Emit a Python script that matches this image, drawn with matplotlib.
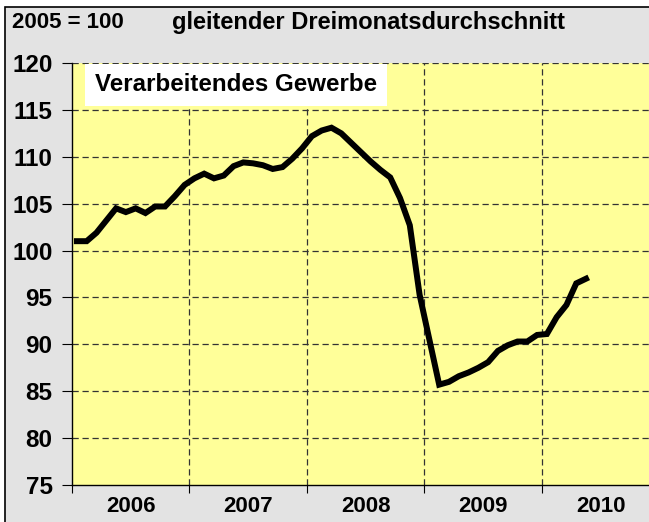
import matplotlib
matplotlib.use("Agg")
import matplotlib.pyplot as plt
from matplotlib.patches import Rectangle

plt.rcParams['font.family'] = ['Liberation Sans', 'DejaVu Sans']

# monthly index values, Jan 2006 - May 2010 (gleitender Dreimonatsdurchschnitt)
index_vals = [
    101.0, 101.0, 101.9, 103.2, 104.5, 104.1, 104.5, 104.0, 104.7, 104.7, 105.8, 107.0,  # 2006
    107.7, 108.2, 107.7, 108.0, 109.0, 109.4, 109.3, 109.1, 108.7, 108.9, 109.8, 110.9,  # 2007
    112.2, 112.8, 113.1, 112.5, 111.5, 110.5, 109.5, 108.6, 107.8, 105.6, 102.7, 95.3,   # 2008
    90.5, 85.7, 86.0, 86.6, 87.0, 87.5, 88.1, 89.3, 89.9, 90.3, 90.3, 91.0,              # 2009
    91.1, 92.9, 94.2, 96.5, 97.0,                                                        # 2010
]
years = ['2006', '2007', '2008', '2009', '2010']
y_ticks = [75, 80, 85, 90, 95, 100, 105, 110, 115, 120]

fig = plt.figure(figsize=(6.49, 5.22), dpi=100)
fig.patch.set_facecolor('white')
# gray panel with black border (top/left visible, rest cropped)
fig.patches.append(Rectangle((5 / 649, -0.1), 1.2, 1.1 - 7 / 522, transform=fig.transFigure,
                             facecolor='#E3E3E3', edgecolor='black', linewidth=1.2, zorder=-5))

ax = fig.add_axes([72 / 649, 1 - 485 / 522, 1 - 72 / 649, (485 - 63) / 522])
ax.set_facecolor('#FFFF99')

x = [i + 0.5 for i in range(len(index_vals))]
ax.plot(x, index_vals, color='black', linewidth=4.3, solid_joinstyle='miter', zorder=5)

ax.set_xlim(0, 58.93)
ax.set_ylim(75, 120)

ax.set_yticks(y_ticks)
ax.set_yticklabels([str(v) for v in y_ticks], fontsize=17.5, fontweight='bold')
ax.set_xticks([0, 12, 24, 36, 48])
ax.set_xticklabels([])
ax.set_xticks([6 + 12 * k for k in range(len(years))], minor=True)
ax.set_xticklabels(years, minor=True, fontsize=16, fontweight='bold')
ax.tick_params(axis='x', which='minor', length=0, pad=8)
ax.tick_params(axis='x', which='major', length=6, direction='out', color='black')
ax.tick_params(axis='y', length=7, direction='out', pad=7)

for v in y_ticks[1:]:
    ax.axhline(v, color='#333333', linewidth=0.9, linestyle=(0, (5, 3)), zorder=2)
for v in [12, 24, 36, 48]:
    ax.axvline(v, color='#333333', linewidth=0.9, linestyle=(0, (5, 3)), zorder=2)

for s in ['top', 'right']:
    ax.spines[s].set_visible(False)
ax.spines['left'].set_linewidth(1.0)
ax.spines['bottom'].set_linewidth(1.0)

ax.text(23 / 577, (485 - 85) / 422, 'Verarbeitendes Gewerbe', transform=ax.transAxes,
        fontsize=17.4, fontweight='bold', va='center', ha='left', zorder=6,
        bbox=dict(boxstyle='square,pad=0.4', facecolor='white', edgecolor='none'))

fig.text(12 / 649, 1 - 22 / 522, '2005 = 100', fontsize=16, fontweight='bold',
         va='center', ha='left')
fig.text(172 / 649, 1 - 22 / 522, 'gleitender Dreimonatsdurchschnitt', fontsize=17,
         fontweight='bold', va='center', ha='left')

fig.savefig('out.png', dpi=100, facecolor=fig.get_facecolor())
